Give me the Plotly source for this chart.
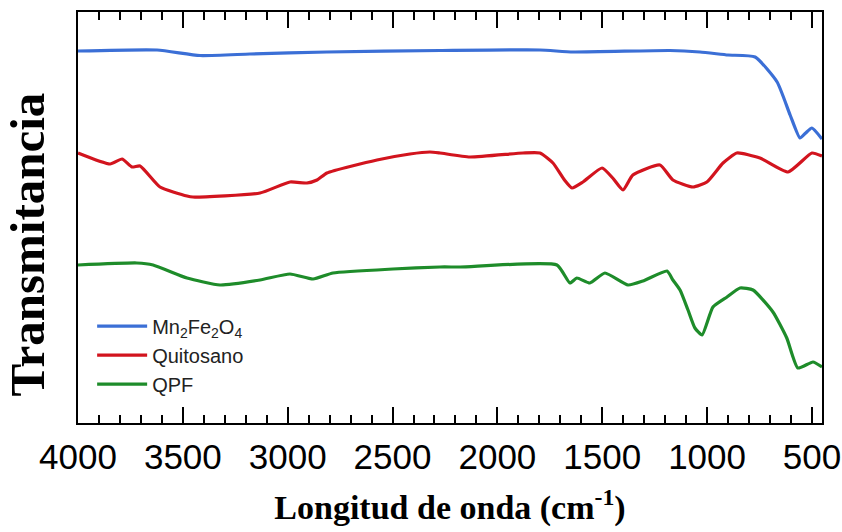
import plotly.graph_objects as go

# Wavenumber (cm^-1) and relative transmittance (arbitrary units)
mn_x = [4000, 3623, 3418, 3180, 2813, 2274, 1797, 1639, 1177, 1034, 900, 771, 666, 604, 557, 530, 500, 452]
mn_y = [372, 373, 367.5, 369, 371, 372.5, 373, 371, 372.5, 371, 368, 366, 341, 308, 285, 290, 295, 284]

qui_x = [4000, 3847, 3790, 3742, 3704, 3609, 3480, 3452, 3132, 2989, 2908, 2860, 2813, 2574, 2417,
         2322, 2274, 2131, 1878, 1797, 1735, 1680, 1644, 1592, 1501, 1450, 1401, 1354, 1225, 1163,
         1067, 1001, 924, 858, 748, 614, 500, 452]
qui_y = [270, 259, 264, 256, 257, 236, 227, 226, 230, 241, 240, 243, 250, 263, 269,
         271, 270, 266, 270, 270, 260, 243, 235, 241, 255, 245, 233, 248, 258, 243,
         236, 241, 260, 270, 265, 251, 270, 267]

qpf_x = [4000, 3719, 3642, 3480, 3323, 3132, 2989, 2879, 2784, 2498, 2274, 2178, 1716, 1654, 1621,
         1559, 1487, 1377, 1306, 1191, 1163, 1129, 1091, 1058, 1024, 972, 905, 843, 781, 686,
         620, 567, 495, 452]
qpf_y = [158, 160, 158, 145, 138, 143, 149, 144, 150, 154, 156, 156, 158, 140, 145,
         140, 150, 138, 142, 152, 143, 133, 113, 95, 88, 116, 126, 135, 133, 111,
         85, 55, 61, 56]

series = [
    ("Mn<sub>2</sub>Fe<sub>2</sub>O<sub>4</sub>", mn_x, mn_y, "#3B6FD6"),
    ("Quitosano", qui_x, qui_y, "#D2141E"),
    ("QPF", qpf_x, qpf_y, "#1E8C2A"),
]

fig = go.Figure()
for name, xs, ys, col in series:
    fig.add_trace(go.Scatter(x=xs, y=ys, mode="lines", name=name,
                             line=dict(color=col, width=3.2, shape="spline", smoothing=0.5)))

fig.update_layout(
    width=842, height=532,
    margin=dict(l=78, r=20, t=12, b=109),
    paper_bgcolor="white", plot_bgcolor="white",
    font=dict(family="Liberation Sans, Arial", color="black"),
    showlegend=True,
    legend=dict(x=0.019, y=0.283, xanchor="left", yanchor="top",
                bgcolor="rgba(0,0,0,0)", borderwidth=0,
                font=dict(size=20, family="Liberation Sans, Arial", color="#222"),
                tracegroupgap=0, itemwidth=50),
    annotations=[dict(
        text="<b>Transmitancia</b>", textangle=-90,
        xref="paper", yref="paper", x=-0.068, y=0.435,
        xanchor="center", yanchor="middle", showarrow=False,
        font=dict(family="Liberation Serif, Times New Roman", size=49, color="black"),
    )],
)

fig.update_xaxes(
    range=[4000, 452], dtick=500, tick0=0,
    showline=True, linecolor="black", linewidth=2, mirror="ticks",
    ticks="inside", ticklen=16, tickwidth=2, tickcolor="black",
    minor=dict(ticks="inside", ticklen=8, tickwidth=2, tickcolor="black", dtick=100),
    showgrid=False, zeroline=False,
    tickfont=dict(size=35, family="Liberation Sans, Arial", color="black"),
    ticklabelstandoff=2,
    title=dict(text="<b>Longitud de onda (cm<sup>-1</sup>)</b>",
               font=dict(family="Liberation Serif, Times New Roman", size=34, color="black"),
               standoff=20),
    automargin=False,
)
fig.update_yaxes(
    range=[0, 411],
    showline=True, linecolor="black", linewidth=2, mirror=True,
    showticklabels=False, ticks="", showgrid=False, zeroline=False,
    automargin=False,
)

fig.write_html("out.html")
